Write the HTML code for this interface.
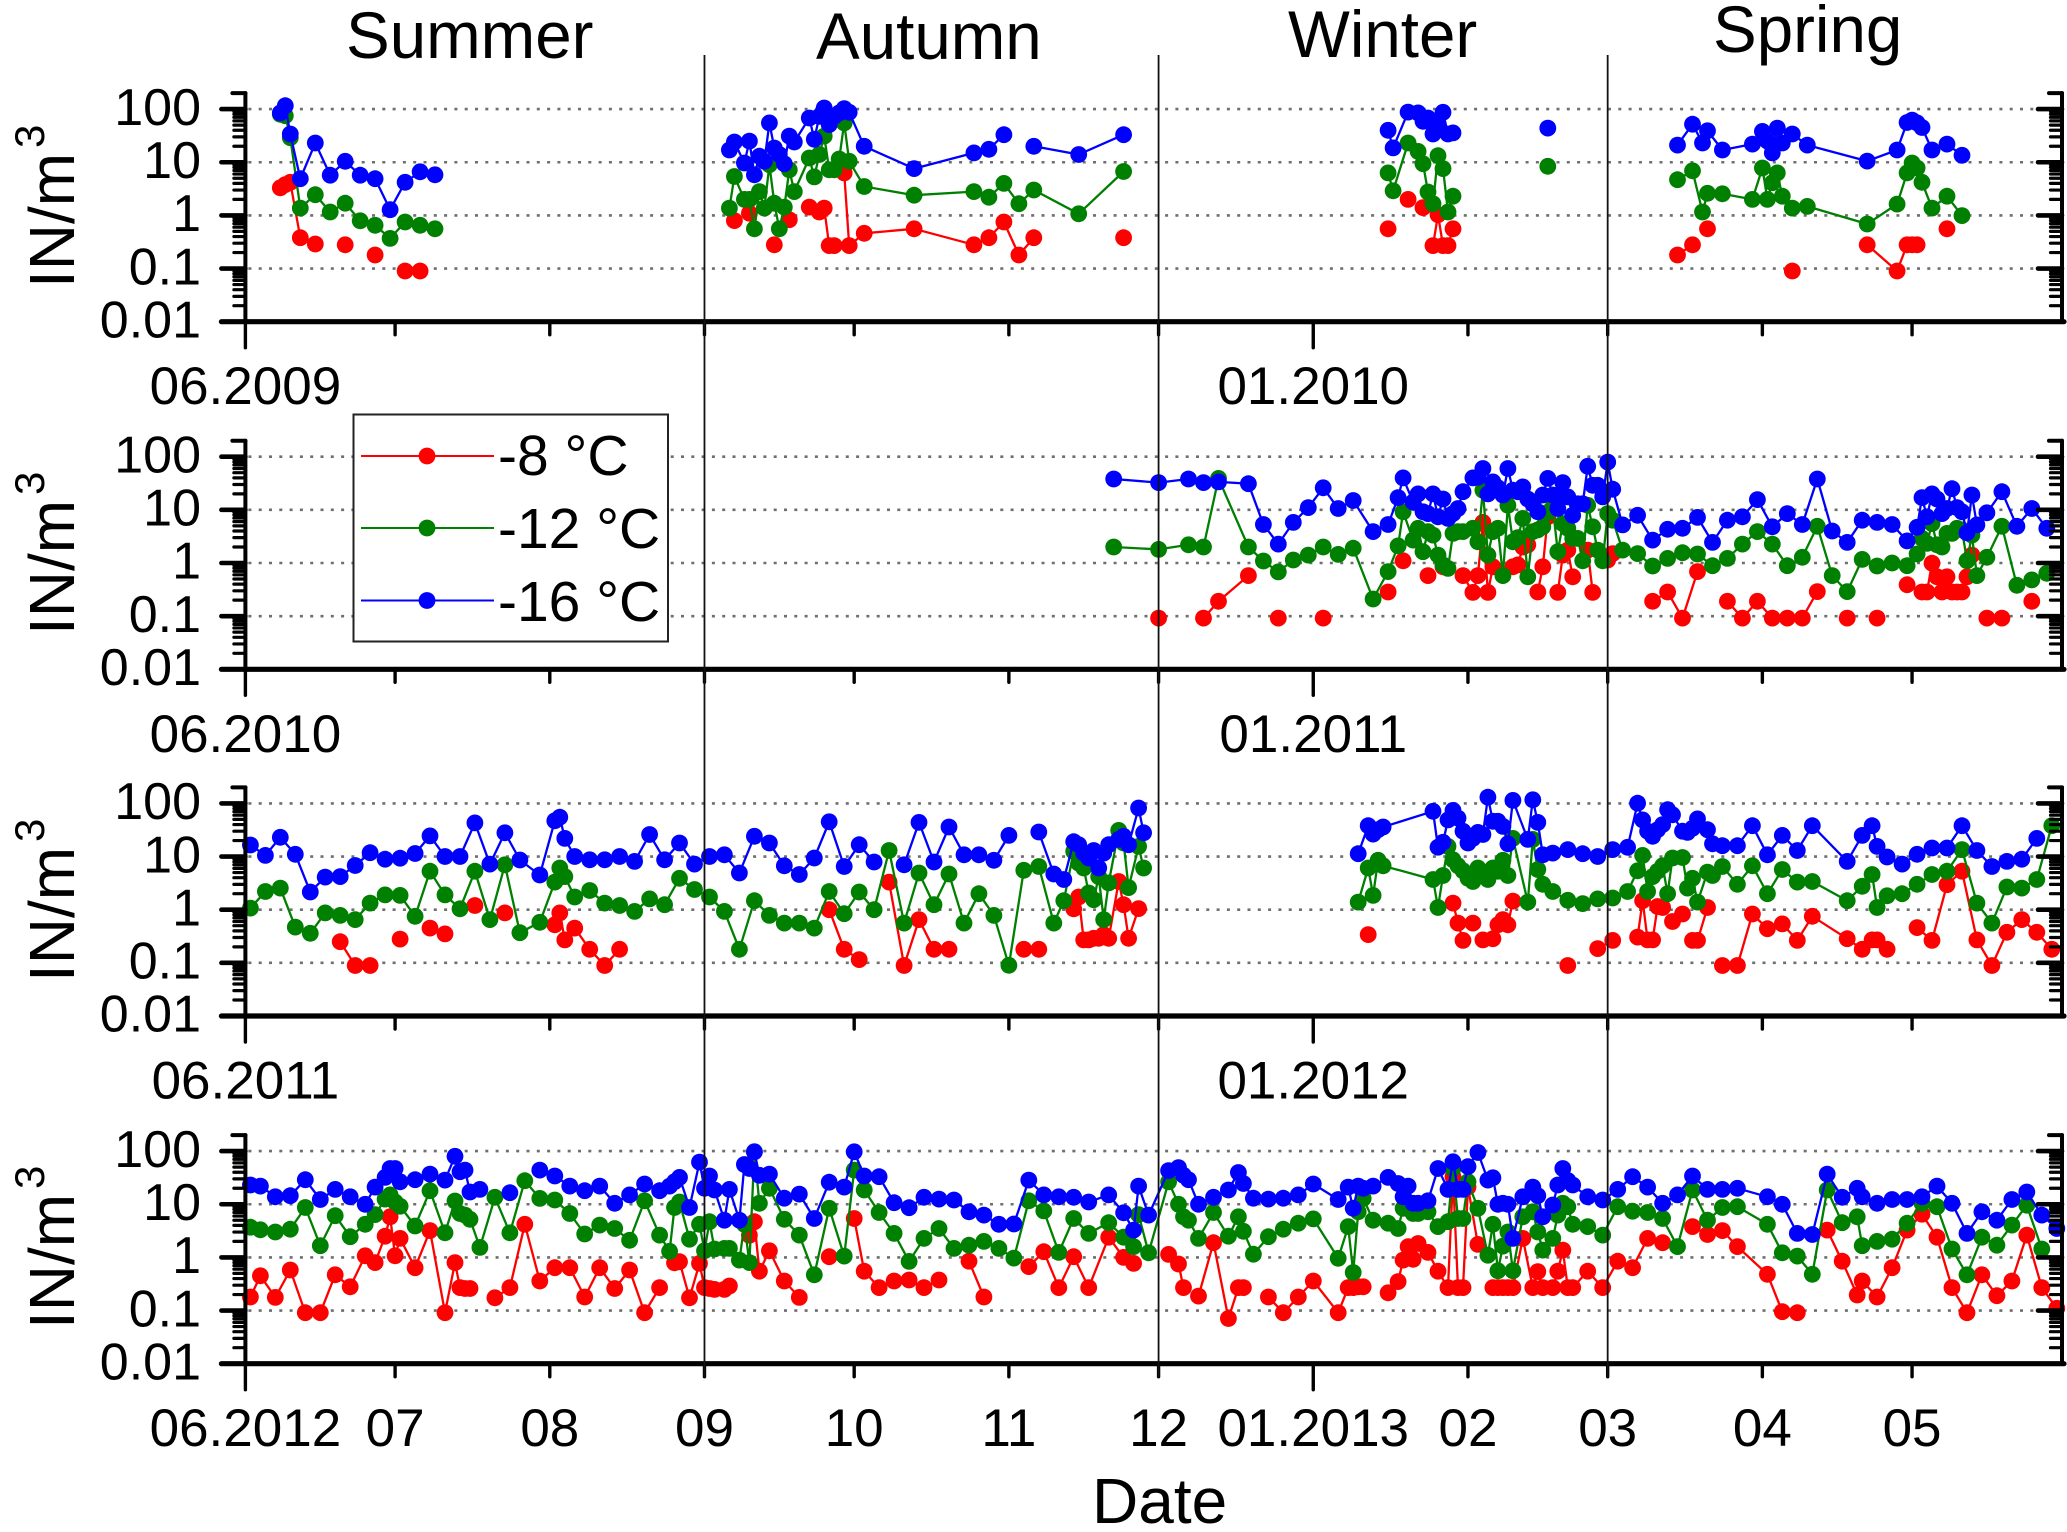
<!DOCTYPE html>
<html lang="en">
<head>
<meta charset="utf-8">
<title>IN/m3 by date and season</title>
<style>
html,body{margin:0;padding:0;background:#fff;}
svg{display:block;}
text{font-family:"Liberation Sans",Arial,sans-serif;fill:#000;}
.tick{font-size:52px;}
.date-label{font-size:53px;}
.season{font-size:65.5px;}
.ytitle{font-size:64px;}
.ysup{font-size:42px;}
.legend-text{font-size:57px;}
</style>
</head>
<body>
<svg id="chart" xmlns="http://www.w3.org/2000/svg" width="2067" height="1532" viewBox="0 0 2067 1532">
  <rect x="0" y="0" width="2067" height="1532" fill="#fff"/>
  <g id="plots"></g>

  <text class="season" x="346" y="58">Summer</text>
  <text class="season" x="816" y="59">Autumn</text>
  <text class="season" x="1288" y="57">Winter</text>
  <text class="season" x="1713" y="52">Spring</text>

  <g>
    <text class="ytitle" transform="translate(74,288) rotate(-90)">IN/m</text>
    <text class="ysup" transform="translate(44,148) rotate(-90)">3</text>
  </g>
  <g>
    <text class="ytitle" transform="translate(74,635) rotate(-90)">IN/m</text>
    <text class="ysup" transform="translate(44,495) rotate(-90)">3</text>
  </g>
  <g>
    <text class="ytitle" transform="translate(74,982) rotate(-90)">IN/m</text>
    <text class="ysup" transform="translate(44,842) rotate(-90)">3</text>
  </g>
  <g>
    <text class="ytitle" transform="translate(74,1329) rotate(-90)">IN/m</text>
    <text class="ysup" transform="translate(44,1189) rotate(-90)">3</text>
  </g>

  <text x="1092" y="1523" font-size="64">Date</text>

  <g>
    <rect x="353.5" y="414.5" width="314.5" height="227" fill="#fff" stroke="#222" stroke-width="2"/>
    <g>
      <line x1="361" x2="494" y1="456" y2="456" stroke="#ff0000" stroke-width="2"/>
      <circle cx="427" cy="456" r="8.4" fill="#ff0000"/>
      <text class="legend-text" x="498" y="475">-8 °C</text>
    </g>
    <g>
      <line x1="361" x2="494" y1="528" y2="528" stroke="#008000" stroke-width="2"/>
      <circle cx="427" cy="528" r="8.4" fill="#008000"/>
      <text class="legend-text" x="498" y="548">-12 °C</text>
    </g>
    <g>
      <line x1="361" x2="494" y1="600.5" y2="600.5" stroke="#0000ff" stroke-width="2"/>
      <circle cx="427" cy="600.5" r="8.4" fill="#0000ff"/>
      <text class="legend-text" x="498" y="621">-16 °C</text>
    </g>
  </g>
</svg>

<script>
/* Axis labels and tick values */
const yTickValues = [100, 10, 1, 0.1, 0.01];
const yTickLabels = ['100', '10', '1', '0.1', '0.01'];
const monthTickDays = [0, 30, 61, 92, 122, 153, 183, 214, 245, 273, 304, 334];
const monthTickLabels = ['06.2012', '07', '08', '09', '10', '11', '12', '01.2013', '02', '03', '04', '05'];
const longTickDays = [0, 214];
const seasonBoundaryDays = [92, 183, 273];
const startLabels = ['06.2009', '06.2010', '06.2011'];
const januaryLabels = ['01.2010', '01.2011', '01.2012'];

/* Panel 1: June 2009 - May 2010. Days counted from 1 June. */
const days1 = [
  7,8,9,11,14,17,20,23,26,29,32,35,38,39,
  97,98,100,101,102,103,104,105,106,107,108,109,110,113,114,115,116,117,118,119,120,121,124,134,146,149,152,155,158,167,176,177,
  229,230,233,235,236,237,238,239,240,241,242,243,261,262,
  287,290,292,293,296,302,304,305,306,307,308,310,313,325,331,333,334,335,336,338,341,344];
const red1 = [
  3.3,3.8,4.2,.38,.29,null,.28,null,.18,null,.09,.09,null,null,
  null,.8,null,1.1,null,null,null,null,.28,null,null,.83,null,1.43,null,1.16,1.37,.27,.27,null,6.3,.27,.46,.56,.28,.38,.75,.18,.38,null,.38,null,
  .56,null,2,null,1.4,null,.27,1.03,.27,.27,.56,null,null,null,
  .18,.28,null,.56,null,null,null,null,null,null,null,.09,null,.28,.09,.28,.28,.28,null,null,.56,null];
const green1 = [
  80,75,29,1.37,2.45,1.16,1.7,.79,.65,.37,.75,.65,.56,null,
  1.37,5.4,2,2,.56,2.8,1.37,9,1.7,.56,1.43,7.2,2.8,12,5.3,14,31,7.2,7.2,11.5,55,10.4,3.5,2.4,2.8,2.2,4,1.66,3,1.07,6.7,null,
  6.3,2.9,23,16,9.4,2.75,1.66,13.3,7.6,1.16,2.3,null,8.4,null,
  4.7,6.9,1.16,2.6,2.55,2,7.8,2,4.1,6.3,2.3,1.37,1.48,.69,1.63,6.3,9.7,7.8,4.2,1.37,2.3,.99];
const blue1 = [
  85,116,34,4.9,23,5.7,10.4,5.7,4.9,1.28,4.2,6.6,5.8,null,
  17,24,9.7,25,5.8,13,10.4,55,18.5,14,9.4,31,24,68,27,73,105,51,73,85,102,87,20,7.6,15,17.5,33,null,20,14,33,null,
  40,18.6,88,85,59,68,34,53,87,34,35.6,null,44,null,
  21,52,23,39,17,22,38,25,15,44,23,34,21,10.5,17,56,62,55,45,17,22,13.5];

/* Panel 2: June 2010 - May 2011 */
const days2 = [
  174,183,189,192,195,201,204,207,210,213,
  216,219,222,226,229,231,232,234,235,236,
  237,238,239,240,241,242,243,244,246,247,
  248,249,250,251,252,253,254,255,256,257,
  258,259,260,261,262,263,264,265,266,267,
  268,269,270,271,272,273,274,276,279,282,
  285,288,291,294,297,300,303,306,309,312,
  315,318,321,324,327,330,333,335,336,337,
  338,339,340,341,342,343,344,345,346,347,
  349,352,355,358,361];
const red2 = [
  null,.092,null,.092,.19,.58,null,.092,null,null,
  .092,null,null,null,.285,null,1.1,null,null,null,
  .58,null,null,.85,null,null,null,.58,.28,.58,
  5.8,.28,.85,null,null,null,.85,.92,2,2.2,
  null,.285,.85,7.4,null,.28,1.41,1.75,.55,null,
  null,1.75,.28,null,null,1.14,1.5,null,null,.19,
  .285,.092,.69,null,.19,.092,.19,.092,.092,.092,
  .29,null,.092,null,.092,null,.39,null,.285,.285,
  .99,.55,.285,.55,.285,.285,.285,.55,1.41,null,
  .092,.092,null,.19,null];
const green2 = [
  2,1.8,2.2,2,39,2,1.09,.68,1.14,1.41,
  2,1.45,1.9,.21,.69,2.1,9.2,2.7,4.5,1.63,
  3.9,3.35,1.41,.92,.79,3.6,3.9,3.9,4.5,2.5,
  23.4,1.41,3.9,4.5,.58,12.2,2.5,3,6.9,.55,
  3.9,4.2,4.8,9,11,1.63,5.5,4.5,2.9,2.9,
  1.1,12.2,4.8,1.75,1.1,8.5,6.4,1.75,1.5,.88,
  1.22,1.56,1.48,.89,1.22,2.27,3.9,2.27,.89,1.28,
  4.9,.58,.29,1.17,.88,1,.89,1.48,2.9,2.34,
  5.5,2.2,2,3.6,3.6,4.5,4.2,1.1,3.35,.58,
  1.28,4.9,.38,.48,.64];
const blue2 = [
  38,32.5,38,32.5,33.5,31,5.3,2.27,5.8,11,
  26,10.6,15,3.9,5.3,17,40,14,20,9.2,
  8.5,20,7.4,16,6.9,8.5,10.6,22,40,41,
  60,20,33.5,26,19,60,23.4,22,27,16,
  13,9.2,19,39,19,10.6,32.5,17.5,7.9,13,
  13,66,29,29,17.5,79,24.5,5.2,7.9,2.7,
  4.3,4.5,7.2,2.44,6.4,7.4,15.6,4.8,8.5,5.3,
  38,4,2.44,6.4,5.8,5.3,2.6,4.7,17,7.4,
  20,16,8.5,10.6,25,11,9.2,3.7,19,5.2,
  8.8,22,4.9,10.6,4.5];

/* Panel 3: June 2011 - May 2012 */
const days3 = [
  1,4,7,10,13,16,19,22,25,28,
  31,34,37,40,43,46,49,52,55,59,
  62,63,64,66,69,72,75,78,81,84,
  87,90,93,96,99,102,105,108,111,114,
  117,120,123,126,129,132,135,138,141,144,
  147,150,153,156,159,162,164,166,167,168,
  169,170,171,172,173,175,176,177,179,180,
  181,
  223,225,226,227,228,238,239,240,241,242,
  243,244,245,246,247,248,249,250,251,252,
  253,254,257,258,259,260,262,265,268,271,
  274,277,279,280,281,282,283,284,285,286,
  288,289,290,291,293,294,296,299,302,305,
  308,311,314,321,324,326,327,329,332,335,
  338,341,344,347,350,353,356,359,362];
const red3 = [
  null,null,null,null,null,null,.25,.089,.089,null,
  .28,null,.45,.35,null,1.2,null,.87,null,null,
  .52,.87,.27,.45,.18,.089,.18,null,null,null,
  null,null,null,null,null,null,null,null,null,null,
  1,.18,.115,null,3.3,.089,.65,.18,.18,null,
  null,null,null,.18,.18,null,null,1.04,1.73,.27,
  .27,.29,.29,.34,.29,3.4,1.24,.29,1.05,null,
  null,
  null,.34,null,null,null,null,null,null,null,1.33,
  .56,.265,null,.56,null,.27,null,.285,.52,.65,
  .52,1.45,null,null,null,null,null,.089,null,.185,
  .265,null,.305,1.48,.27,.27,1.15,1.1,null,.6,
  .83,null,.265,.265,1.1,null,.089,.089,.83,.44,
  .54,.265,.75,.285,.18,.27,.27,.18,null,.46,
  .265,2.95,5.3,.27,.089,.375,.65,.375,.18];
const green3 = [
  1.07,2.2,2.55,.47,.36,.87,.78,.65,1.33,1.9,
  1.86,.75,5.3,1.9,1.04,5.3,.65,7,.37,.58,
  3.3,6.1,4.2,1.73,2.3,1.33,1.2,.93,1.6,1.24,
  3.9,2.4,1.73,.93,.18,1.48,.78,.56,.56,.45,
  2.2,.84,2.15,1,13,.56,4.9,1.24,4.7,.56,
  2,.78,.09,5.5,6.5,.56,1.48,12.5,7.5,6.1,
  2.06,1.54,4.2,.65,3.2,31,18,2.6,15.5,6.1,
  null,
  1.39,6.1,1.86,8.5,6.7,3.7,1.1,4.4,15.5,8.7,
  6.7,5.4,3.9,3.4,6.1,4.9,3.7,6.1,5.3,8.5,
  4.4,22,1.39,21,5.7,3,2.2,1.5,1.3,1.6,
  1.66,2.2,5.4,10.5,2.2,4.2,5.3,6.7,2,9.4,
  9.6,2.55,3.9,1.39,5.1,4.4,6.5,3,6.7,2,
  5.7,3.3,3.4,1.48,2.75,4.6,1.1,1.83,2,3,
  4.6,5.3,13.5,1.33,.56,2.67,2.55,3.7,38];
const blue3 = [
  16.5,10.5,23,11,2.15,4.1,4.2,6.8,11.8,8.9,
  9.3,11.4,24.5,10,10,43,7.2,28,8.6,4.5,
  47,55,22,10,8.7,8.7,10,8.1,26,8.7,
  18,7.2,10,10.8,4.9,24,18,6.7,4.6,9.4,
  45,6.5,16.7,7.9,null,7,44,7.9,36,10.8,
  10.8,8.5,25,null,29,4.7,3.7,19,16.7,11.6,
  9.4,13,6.1,11.6,16.7,21,24,16.7,82,28,
  null,
  11.3,38,26.5,32,36,71,15,18.5,49,74,
  53,30,18,22,28.5,26,131,46,46,37,
  17.4,114,21,117,44,10.8,11.6,13.5,11.3,10,
  13.5,14.9,101,49,30,24,32,40,76,61,
  30,28.5,34,51,32,17.4,16,16,38,10.8,
  25,13,38,8.1,25,38,15.5,9.8,7.2,11,
  14.5,14.5,38,13,6.5,8.1,8.9,22,null];

/* Panel 4: June 2012 - May 2013 */
const days4 = [
  1,3,6,9,12,15,18,21,24,26,
  28,29,30,31,34,37,40,42,43,44,
  45,47,50,53,56,59,62,65,68,71,
  74,77,80,83,85,86,87,89,91,92,
  93,94,96,97,99,100,101,102,103,105,
  108,111,114,117,120,122,124,127,130,133,
  136,139,142,145,148,151,154,157,160,163,
  166,169,173,176,178,179,181,185,187,188,
  189,191,194,197,199,200,202,205,208,211,
  214,219,221,222,223,224,226,229,231,232,
  233,234,235,237,239,241,242,243,244,245,
  247,249,250,251,252,253,254,256,258,259,
  260,262,263,264,265,266,269,272,275,278,
  281,284,287,290,293,296,299,305,308,311,
  314,317,320,323,324,327,330,333,336,339,
  342,345,348,351,354,357,360,363];
const red4 = [
  .18,.45,.177,.58,.091,.091,.47,.28,1.07,.8,
  2.5,5.8,1.07,2.28,.64,3.2,.091,.8,.27,.26,
  .26,null,.174,.27,4.2,.36,.64,.64,.18,.64,
  .26,.58,.091,.27,null,.79,.83,.174,.77,.27,
  .26,.25,.25,.29,null,null,2.6,4.7,.55,1.33,
  .36,.177,null,1.03,null,5.4,.55,.27,.36,.375,
  .27,.375,null,.85,.18,null,null,.67,1.28,.27,
  1.03,.27,2.4,1,.77,null,null,1.14,.75,.27,
  null,.187,1.89,.071,.27,.27,null,.18,.091,.18,
  .36,.091,.27,.27,.28,.28,null,.216,.35,.89,
  1.59,.92,1.83,1.24,.55,.27,33,.27,.27,21,
  1.76,null,.27,.27,.27,.27,.27,2.28,.27,.54,
  .27,.27,.55,1.37,.27,.27,.55,.27,.85,.64,
  2.28,1.89,null,3.8,2.7,3.2,1.6,.48,.095,.091,
  null,3.27,.85,.196,.36,.18,.64,3.27,6.5,2.4,
  .27,.091,.47,.19,.36,2.63,.27,.11];
const green4 = [
  3.7,3.3,3,3.4,8.7,1.66,6.1,2.45,4.2,6.4,
  12.5,15,11,9.2,3.9,18,2.9,11.5,6.7,6.25,
  5.2,1.54,13.5,2.9,27.7,12.9,12,6.7,2.75,4.05,
  3.5,2.1,11.6,2.63,1.3,8.7,11,2.2,4.2,1.33,
  4.7,1.44,1.48,1.48,.89,4.2,.8,97,10.4,20,
  5.2,2.63,.47,8.4,1.06,44,18.5,7,2.83,.84,
  2.28,3.5,1.48,1.7,2,1.48,.97,11.6,7.5,1.24,
  5.4,2.83,4.5,2.4,1.6,6.4,1.22,26.5,10,5.8,
  5,2.28,7,2.5,5.8,3.1,1.15,2.45,3.4,4.4,
  5.3,.96,3.8,.52,7.2,12.9,5,4.4,3.5,8.4,
  8.4,6.7,6.7,7.2,3.8,4.7,47,5.4,5.4,26.5,
  8.4,1.1,4.2,.56,1.63,3,.56,5.8,7.2,3,
  1.37,2.28,6.25,10.4,9,4.2,3.8,2.63,9,7.4,
  7,5.4,1.6,18.5,5,8.7,9,4.2,1.22,1.06,
  .48,18.5,4.5,5.8,1.66,2,2.2,4.4,10.4,9,
  1.44,.47,2.4,1.7,4.05,9.6,1.44,null];
const blue4 = [
  23,22,13.8,14.5,29,12.3,19,13.8,10,21,
  32,47,47,26.5,29,37,28.5,80,41,44,
  17,19,null,16.5,null,44,34,22,18,22,
  10.4,15,24,18,22,26.5,32,8.7,62,20,
  34,18.5,5,19,5,56,47,97,35,37,
  13,15.5,5.4,26,21,97,34,33,10.7,8.6,
  13.5,12.5,12,7.2,6.25,4.2,4.25,28.5,15,13.8,
  13.5,11,15,6.9,3.27,22,6.25,43,49,35,
  29,10,13.5,18.5,39.6,24.6,13,12.5,13,15,
  24,12.3,21,8.4,22,20,22,32,24.6,13.8,
  22,10.4,10.4,11.6,47,19,63,19,19,51,
  94,28.5,31.5,10,10.4,10,2.28,13.8,21,14.5,
  5.8,9.7,23,47,28,23,13.8,12,19,33,
  21,10.4,15,34,19,19,20,13.8,10,2.83,
  2.7,37,13.5,20,13.8,10.4,12.3,12.3,13.8,22,
  10.4,2.83,7.2,5,12.3,17,6.25,3.5];

/* Layout */
const SVGNS = 'http://www.w3.org/2000/svg';
const plotRoot = document.getElementById('plots');
const X0 = 245.4, X_PER_DAY = 4.99, XRIGHT = 2062;
const DECADE = 53.15;
const axisBaselines = [321.7, 669.3, 1016, 1363.7];
const panelData = [
  {days: days1, red: red1, green: green1, blue: blue1},
  {days: days2, red: red2, green: green2, blue: blue2},
  {days: days3, red: red3, green: green3, blue: blue3},
  {days: days4, red: red4, green: green4, blue: blue4}
];
const seriesStyles = [
  {key: 'red', color: '#ff0000'},
  {key: 'green', color: '#008000'},
  {key: 'blue', color: '#0000ff'}
];

function xScale(day) { return X0 + day * X_PER_DAY; }
function yScale(panel, value) { return axisBaselines[panel] - (Math.log10(value) + 2) * DECADE; }

function svgEl(tag, attrs, parent) {
  const el = document.createElementNS(SVGNS, tag);
  for (const k in attrs) el.setAttribute(k, attrs[k]);
  parent.appendChild(el);
  return el;
}

function drawGrid(panel, parent) {
  yTickValues.slice(0, 4).forEach(function (v) {
    const y = yScale(panel, v);
    const el = svgEl('line', {x1: X0 + 3, x2: XRIGHT - 2, y1: y, y2: y, stroke: '#6f6f6f', 'stroke-width': 2.6, 'stroke-dasharray': '3 7.3'}, parent);
    
    
  });
}

function drawSeries(panel, parent) {
  const data = panelData[panel];
  seriesStyles.forEach(function (style) {
    const values = data[style.key];
    const group = svgEl('g', {}, parent);
    
    
    let d = '';
    let penDown = false;
    data.days.forEach(function (day, i) {
      const v = values[i];
      if (v === null || v === undefined) { penDown = false; return; }
      d += (penDown ? 'L' : 'M') + xScale(day).toFixed(1) + ' ' + yScale(panel, v).toFixed(1);
      penDown = true;
    });
    const line = svgEl('path', {d: d, fill: 'none', stroke: style.color, 'stroke-width': 2.3, 'stroke-linejoin': 'round'}, group);
    
    
    data.days.forEach(function (day, i) {
      const v = values[i];
      if (v === null || v === undefined) return;
      const dot = svgEl('circle', {cx: xScale(day).toFixed(1), cy: yScale(panel, v).toFixed(1), r: 8.4, fill: style.color}, group);
      
      
    });
  });
}

function tickLine(parent, x1, y1, x2, y2, width) {
  const el = svgEl('line', {x1: x1, y1: y1, x2: x2, y2: y2, stroke: '#000', 'stroke-width': width, 'stroke-linecap': 'round'}, parent);
  
  
}

function drawYAxis(panel, parent, x, side) {
  const base = axisBaselines[panel];
  const top = yScale(panel, 200);
  const spine = svgEl('line', {x1: x, x2: x, y1: top, y2: base, stroke: '#000', 'stroke-width': 4, 'stroke-linecap': 'round'}, parent);
  
  
  yTickValues.slice(0, 4).forEach(function (v) {
    const y = yScale(panel, v);
    tickLine(parent, x, y, x + side * 24, y, 4.6);
    for (let m = 2; m <= 9; m++) {
      const minorY = yScale(panel, v / 10 * m);
      tickLine(parent, x, minorY, x + side * 11.5, minorY, 3.2);
    }
  });
  tickLine(parent, x, top, x + side * 13, top, 4);
}

function drawYLabels(panel, parent) {
  yTickValues.forEach(function (v, i) {
    const t = svgEl('text', {x: 201, y: yScale(panel, v) + 15.7, 'text-anchor': 'end', class: 'tick'}, parent);
    t.textContent = yTickLabels[i];
    
    
  });
}

function drawXAxis(panel, parent) {
  const base = axisBaselines[panel];
  const axis = svgEl('line', {x1: X0 - 24, x2: XRIGHT + 2, y1: base, y2: base, stroke: '#000', 'stroke-width': 5.2, 'stroke-linecap': 'round'}, parent);
  
  
  monthTickDays.forEach(function (day) {
    const len = longTickDays.indexOf(day) >= 0 ? 26 : 13;
    tickLine(parent, xScale(day), base, xScale(day), base + len, 3.4);
  });
}

function drawXLabels(panel, parent) {
  const baseline = axisBaselines[panel] + 82.5;
  if (panel < 3) {
    const a = svgEl('text', {x: xScale(0), y: baseline, 'text-anchor': 'middle', class: 'date-label'}, parent);
    a.textContent = startLabels[panel];
    
    
    const b = svgEl('text', {x: xScale(214), y: baseline, 'text-anchor': 'middle', class: 'date-label'}, parent);
    b.textContent = januaryLabels[panel];
    
    
  } else {
    monthTickDays.forEach(function (day, i) {
      const t = svgEl('text', {x: xScale(day), y: baseline, 'text-anchor': 'middle', class: 'date-label'}, parent);
      t.textContent = monthTickLabels[i];
      
      
    });
  }
}

panelData.forEach(function (_, panel) {
  const g = svgEl('g', {}, plotRoot);
  
  
  drawGrid(panel, g);
  drawSeries(panel, g);
  drawYAxis(panel, g, X0, -1);
  drawYAxis(panel, g, XRIGHT, -1);
  drawXAxis(panel, g);
  drawYLabels(panel, g);
  drawXLabels(panel, g);
});

seasonBoundaryDays.forEach(function (day) {
  const v = svgEl('line', {x1: xScale(day), x2: xScale(day), y1: 55, y2: 1377, stroke: '#111', 'stroke-width': 1.8}, plotRoot);
  
  
});
</script>
</body>
</html>
